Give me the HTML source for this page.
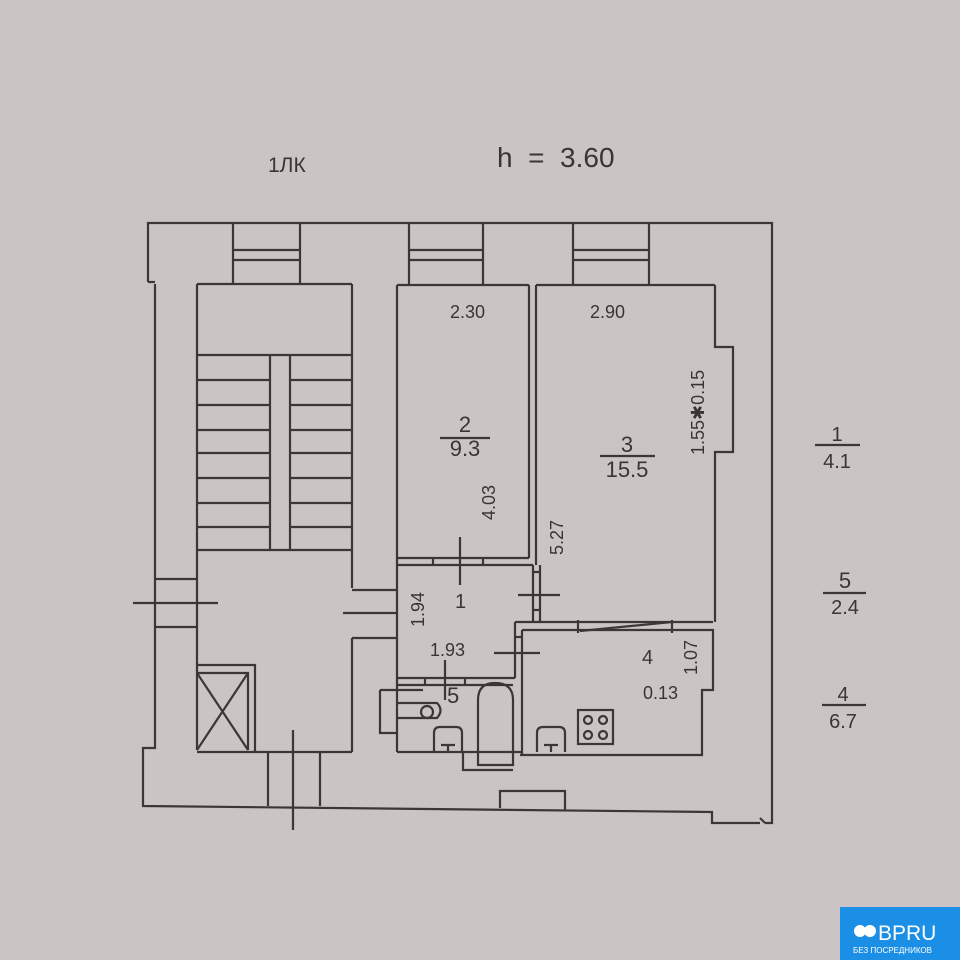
<!DOCTYPE html>
<html><head><meta charset="utf-8"><style>
html,body{margin:0;padding:0;width:960px;height:960px;overflow:hidden;background:#c9c4c3}
svg{display:block}
text{font-family:"Liberation Sans","DejaVu Sans",sans-serif;fill:#3a3535;white-space:pre}
</style></head><body>
<svg width="960" height="960" viewBox="0 0 960 960" xmlns="http://www.w3.org/2000/svg">
<rect width="960" height="960" fill="#cac5c4"/>
<g fill="none" stroke="#3b3737" stroke-width="2.2">
<path d="M148 282 V223 H772 V823 H765"/>
<path d="M765 823 L760 818 M760 823 H712 V812 L143 806 V748 H155 V284"/>
<path d="M148 282 H155"/>
<path d="M197 284 H352 M397 285 H529 M536 285 H715"/>
<path d="M233 223 V284 M300 223 V284 M233 250 H300 M233 260 H300"/>
<path d="M409 223 V285 M483 223 V285 M409 250 H483 M409 260 H483"/>
<path d="M573 223 V285 M649 223 V285 M573 250 H649 M573 260 H649"/>
<path d="M197 284 V750 M352 284 V588 M352 638 V752 M197 752 H352"/>
<path d="M197 355 H352"/>
<path d="M197 380 H270 M197 405 H270 M197 430 H270 M197 453 H270 M197 478 H270 M197 503 H270 M197 527 H270 M197 550 H352"/>
<path d="M290 380 H352 M290 405 H352 M290 430 H352 M290 453 H352 M290 478 H352 M290 503 H352 M290 527 H352"/>
<path d="M270 355 V550 M290 355 V550"/>
<path d="M155 579 H197 M155 627 H197 M133 603 H218"/>
<path d="M197 665 H255 V752 M197 673 H248 V750 M197 673 L248 750 M248 673 L197 750"/>
<path d="M268 752 V806 M320 752 V806 M293 730 V830"/>
<path d="M352 590 H397 M352 613 H397 M352 638 H397 M343 613 H360"/>
<path d="M397 285 V752 M529 285 V558 M536 285 V565 M397 558 H529 M397 565 H515"/>
<path d="M433 558 V565 M483 558 V565 M460 537 V585"/>
<path d="M715 285 V347 H733 V452 H715 V622"/>
<path d="M533 565 V622 M540 565 V622 M533 572 H540 M533 610 H540 M515 565 H533 M518 595 H560"/>
<path d="M515 622 H713 M522 630 H713 V690 H702 V755 H520"/>
<path d="M515 622 V678 M522 630 V755 M515 637 H522 M578 620 V633 M672 620 V633 M580 631 L672 622 M494 653 H540"/>
<path d="M397 678 H515 M397 685 H513 M425 678 V685 M465 678 V685 M445 660 V700"/>
<path d="M397 752 H522 M380 690 H397 M380 690 V733 H397"/>
<path d="M397 690 H423 M397 703 H437 Q444 710 437 718 H397"/>
<circle cx="427" cy="712" r="6"/>
<path d="M478 765 V700 Q478 683 495 683 Q513 683 513 700 V765 Z M463 752 V770 H513"/>
<path d="M434 752 V733 Q434 727 440 727 H456 Q462 727 462 733 V752 M441 745 H455 M448 745 V752"/>
<path d="M537 752 V733 Q537 727 543 727 H559 Q565 727 565 733 V752 M544 745 H558 M551 745 V752"/>
<rect x="578" y="710" width="35" height="34"/>
<circle cx="588" cy="720" r="4"/><circle cx="603" cy="720" r="4"/><circle cx="588" cy="735" r="4"/><circle cx="603" cy="735" r="4"/>
<path d="M500 808 V791 H565 V810"/>
<path d="M440 438 H490 M600 456 H655 M815 445 H860 M823 593 H866 M822 705 H866"/>
</g>
<text x="268" y="172" font-size="21">1ЛК</text>
<text x="497" y="167" font-size="28" xml:space="preserve">h  =  3.60</text>
<g font-size="18">
<text x="450" y="318">2.30</text>
<text x="590" y="318">2.90</text>
<text x="465" y="432" text-anchor="middle" font-size="22">2</text>
<text x="465" y="456" text-anchor="middle" font-size="22">9.3</text>
<text x="627" y="452" text-anchor="middle" font-size="22">3</text>
<text x="627" y="477" text-anchor="middle" font-size="22">15.5</text>
<text transform="translate(495,520) rotate(-90)">4.03</text>
<text transform="translate(563,555) rotate(-90)">5.27</text>
<text transform="translate(704,455) rotate(-90)">1.55✱0.15</text>
<text transform="translate(424,627) rotate(-90)">1.94</text>
<text x="455" y="608" font-size="20">1</text>
<text x="430" y="656">1.93</text>
<text x="447" y="703" font-size="22">5</text>
<text x="642" y="664" font-size="20">4</text>
<text transform="translate(697,675) rotate(-90)">1.07</text>
<text x="643" y="699">0.13</text>
<text x="837" y="441" text-anchor="middle" font-size="20">1</text>
<text x="837" y="468" text-anchor="middle" font-size="20">4.1</text>
<text x="845" y="588" text-anchor="middle" font-size="22">5</text>
<text x="845" y="614" text-anchor="middle" font-size="20">2.4</text>
<text x="843" y="701" text-anchor="middle" font-size="20">4</text>
<text x="843" y="728" text-anchor="middle" font-size="20">6.7</text>
</g>
<rect x="840" y="907" width="120" height="53" fill="#1b8fe6"/>
<circle cx="860" cy="931" r="6" fill="#fff"/>
<circle cx="870" cy="931" r="6" fill="#fff"/>
<text x="878" y="940" font-size="21" style="fill:#fff">BPRU</text>
<text x="853" y="953" font-size="8" style="fill:#fff">БЕЗ ПОСРЕДНИКОВ</text>
</svg>
</body></html>
